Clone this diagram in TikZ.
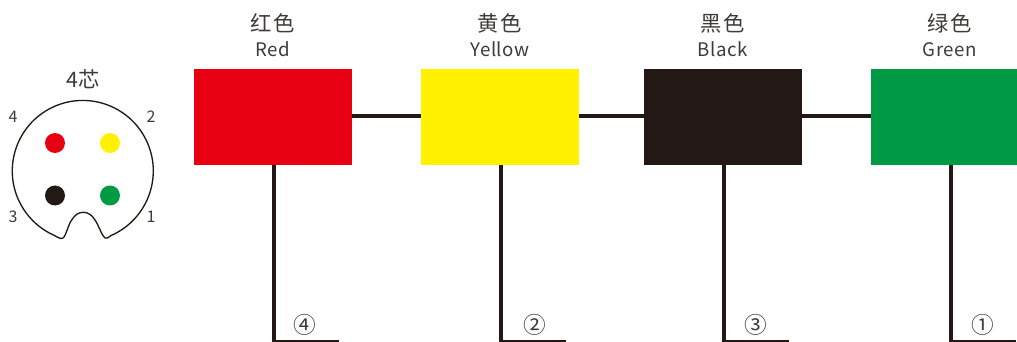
\documentclass[tikz,border=0pt]{standalone}
\usepackage{fontspec}
\newfontfamily\cjk{Noto Sans CJK SC}
\newfontfamily\cjkwide[LetterSpace=8]{Noto Sans CJK SC}
\newfontfamily\latinwide[LetterSpace=3]{Noto Sans CJK SC}
\definecolor{wirered}{HTML}{E60012}
\definecolor{wireyellow}{HTML}{FFF100}
\definecolor{wireblack}{HTML}{231815}
\definecolor{wiregreen}{HTML}{009944}
\definecolor{labelgray}{HTML}{3E3A39}
\tikzset{
 colorbox/.style={minimum width=118.5pt,minimum height=72pt,inner sep=0,outer sep=0},
 wire/.style={line width=3pt,draw=wireblack},
 pin/.style={circle,inner sep=0,outer sep=0,minimum size=15pt},
 cntext/.style={text=labelgray,font=\cjkwide\fontsize{16}{16}\selectfont,inner sep=0},
 entext/.style={text=labelgray,font=\latinwide\fontsize{14}{14}\selectfont,inner sep=0,anchor=base},
 pintext/.style={text=labelgray,font=\cjk\fontsize{12}{12}\selectfont,inner sep=0},
 numtext/.style={text=labelgray,font=\cjk\fontsize{17}{17}\selectfont,inner sep=0},
}

\begin{document}
\begin{tikzpicture}[x=0.75pt,y=-0.75pt]
 \useasboundingbox (0,0) rectangle (1017,342);
 % boxes
 \node[colorbox,fill=wirered] (red) at (273,117) {};
 \node[colorbox,fill=wireyellow] (yellow) at (500,117) {};
 \node[colorbox,fill=wireblack] (black) at (723,117) {};
 \node[colorbox,fill=wiregreen] (green) at (950,117) {};
 \draw[wire] ([yshift=1pt]red.east) -- ([yshift=1pt]yellow.west);
 \draw[wire] ([yshift=1pt]yellow.east) -- ([yshift=1pt]black.west);
 \draw[wire] ([yshift=1pt]black.east) -- ([yshift=1pt]green.west);
 % wires and labels
 \foreach \name/\cn/\en/\num/\off in {red/红色/Red/④/23.2,yellow/黄色/Yellow/②/25.5,black/黑色/Black/③/24,green/绿色/Green/①/24}{
     \node[cntext] (\name cn) at ([yshift=34.5pt]\name.north) {\cn};
     \node[entext] (\name en) at ([yshift=9.5pt]\name.north) {\en};
     \coordinate (\name end) at ([xshift=.4pt,yshift=-132pt]\name.south);
     \coordinate (\name tail) at ([xshift=49pt]\name end);
     \draw[wire] ([xshift=.4pt]\name.south) -- ([yshift=-.5pt]\name end);
     \draw[wireblack,line width=1pt] ([xshift=-1.5pt]\name end) -- (\name tail);
     \node[numtext] (\name num) at ([xshift=\off pt,yshift=12pt]\name end) {\num};
 }
 % connector
 \draw[wireblack,line width=1pt] (54.7,235.6) .. controls (58,237.5) and (61,239.5) .. (63,238)
   .. controls (66,236) and (68,225) .. (71.7,220)
   .. controls (75,214.5) and (79,212.3) .. (83.3,212.3)
   .. controls (88,212.3) and (92,215) .. (95,220)
   .. controls (99,226) and (102,236) .. (105,238)
   .. controls (107,239.5) and (108,237) .. (110.9,235.6)
   arc[start angle=66.5,end angle=-246.5,radius=70.5];
 \node[pin,fill=wirered] (pinred) at (55,143) {};
 \node[pin,fill=wireyellow] (pinyellow) at (110,143) {};
 \node[pin,fill=wireblack] (pinblack) at (55,195.5) {};
 \node[pin,fill=wiregreen] (pingreen) at (110,195.5) {};
 \node[pintext,font=\cjk\fontsize{16}{16}\selectfont] (title) at (83,79) {4芯};
 \node[pintext] (pinfour) at (13,117) {4};
 \node[pintext] (pintwo) at (151,117) {2};
 \node[pintext] (pinthree) at (13,217) {3};
 \node[pintext] (pinone) at (151,217) {1};
\end{tikzpicture}
\end{document}
